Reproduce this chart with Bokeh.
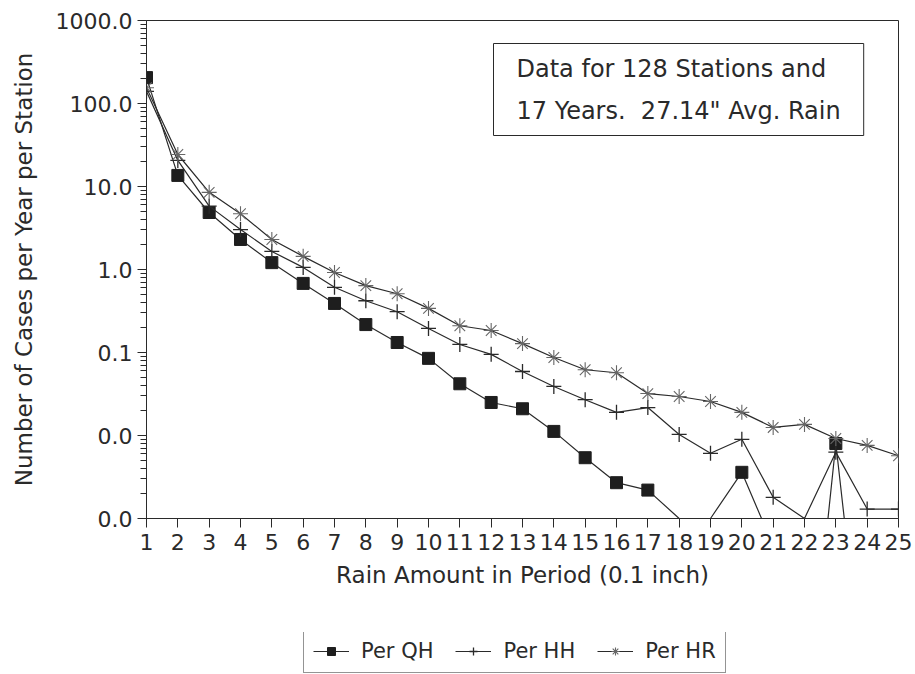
from bokeh.plotting import figure
from bokeh.layouts import column
from bokeh.models import (Range1d, FixedTicker, PrintfTickFormatter, Legend, LegendItem,
                          Label, ColumnDataSource, CDSView, BooleanFilter)
from bokeh.embed import file_html
from bokeh.resources import INLINE

# ---- data ----
rain_amount = list(range(1, 26))
per_qh = [205, 13.6, 4.86, 2.3, 1.21, 0.68, 0.39, 0.217, 0.132, 0.085,
          0.042, 0.025, 0.021, 0.0112, 0.0054, 0.0027, 0.0022, 0.001, 0.001, 0.0036,
          0.00047, 0.000002, 0.008, 0.0000035, 0.0000035]
per_hh = [140, 20.6, 5.8, 3.03, 1.65, 1.06, 0.61, 0.42, 0.31, 0.195,
          0.125, 0.095, 0.059, 0.039, 0.027, 0.019, 0.0217, 0.0103, 0.0061, 0.009,
          0.0018, 0.001, 0.0063, 0.0013, 0.0013]
per_hr = [155, 24.3, 8.5, 4.7, 2.3, 1.44, 0.92, 0.64, 0.51, 0.34,
          0.21, 0.184, 0.128, 0.087, 0.062, 0.057, 0.032, 0.0295, 0.0257, 0.019,
          0.0125, 0.0136, 0.0092, 0.0076, 0.0057]
x_ticks = list(range(1, 26))
y_ticks = [0.001, 0.01, 0.1, 1, 10, 100, 1000]
series_names = ["Per QH", "Per HH", "Per HR"]
note_text = "Data for 128 Stations and\n17 Years.\u00a0 27.14\" Avg. Rain"

FONT = "DejaVu Sans"
INK = "#2a2a2a"
Y_MIN = y_ticks[0]

p = figure(width=915, height=632, y_axis_type="log", output_backend="svg",
           toolbar_location=None,
           x_range=Range1d(x_ticks[0], x_ticks[-1]),
           y_range=Range1d(y_ticks[0], y_ticks[-1]),
           min_border_left=146, min_border_right=17, min_border_top=20,
           min_border_bottom=114)
p.grid.visible = False
p.outline_line_color = INK
p.outline_line_width = 1
p.background_fill_color = "white"
p.border_fill_color = "white"

# axes
minor = []
for t in y_ticks[:-1]:
    for k in range(2, 10):
        minor.append(t * k)
p.yaxis.ticker = FixedTicker(ticks=y_ticks, minor_ticks=minor)
p.yaxis.formatter = PrintfTickFormatter(format="%.1f")
p.xaxis.ticker = FixedTicker(ticks=x_ticks, minor_ticks=[])
for ax in (p.xaxis[0], p.yaxis[0]):
    ax.axis_line_color = INK
    ax.major_tick_line_color = INK
    ax.minor_tick_line_color = INK
    ax.major_tick_out = 9
    ax.major_tick_in = 0
    ax.minor_tick_out = 6
    ax.minor_tick_in = 0
    ax.major_label_text_font = FONT
    ax.major_label_text_font_size = "22px"
    ax.major_label_text_color = INK
    ax.axis_label_text_font = FONT
    ax.axis_label_text_font_size = "23px"
    ax.axis_label_text_font_style = "normal"
    ax.axis_label_text_color = INK
p.xaxis.major_label_standoff = 6
p.yaxis.major_label_standoff = 5
p.xaxis.axis_label = "Rain Amount in Period (0.1 inch)"
p.yaxis.axis_label = "Number of Cases per Year per Station"
p.xaxis.axis_label_standoff = 9
p.yaxis.axis_label_standoff = 16

src = ColumnDataSource(dict(x=rain_amount, qh=per_qh, hh=per_hh, hr=per_hr))

def view_for(vals):
    return CDSView(filter=BooleanFilter([v > Y_MIN * 1.1 for v in vals]))

def draw(fig):
    l_qh = fig.line("x", "qh", source=src, line_color=INK, line_width=1.2)
    s_qh = fig.scatter("x", "qh", source=src, view=view_for(per_qh), marker="square",
                       size=12, fill_color="#1e1e1e", line_color="#1e1e1e")
    l_hh = fig.line("x", "hh", source=src, line_color=INK, line_width=1.2)
    s_hh = fig.scatter("x", "hh", source=src, view=view_for(per_hh), marker="cross",
                       size=15, line_color=INK, line_width=1.3)
    l_hr = fig.line("x", "hr", source=src, line_color=INK, line_width=1.2)
    s_hr = fig.scatter("x", "hr", source=src, view=view_for(per_hr), marker="asterisk",
                       size=15, line_color="#666666", line_width=1.1)
    return [(l_qh, s_qh), (l_hh, s_hh), (l_hr, s_hr)]

draw(p)

note = Label(x=347, y=475, x_units="screen", y_units="screen", text=note_text,
             anchor="top_left", text_font=FONT, text_font_size="24px",
             text_color=INK, text_line_height=1.5,
             border_line_color=INK, border_line_width=1,
             background_fill_color="white", padding=(23, 11))
p.add_layout(note)

# legend strip below the chart (its ranges keep the series out of view)
leg_fig = figure(width=915, height=42, output_backend="svg", toolbar_location=None,
                 x_axis_location=None, y_axis_location=None,
                 x_range=Range1d(100, 101), y_range=Range1d(100, 101),
                 min_border_left=146, min_border_right=17, min_border_top=0,
                 min_border_bottom=0)
leg_fig.grid.visible = False
leg_fig.outline_line_color = None
leg_fig.background_fill_color = "white"
leg_fig.border_fill_color = "white"
pairs = draw(leg_fig)
legend = Legend(items=[LegendItem(label=n, renderers=list(r)) for n, r in zip(series_names, pairs)],
                orientation="horizontal", location=(157, 1))
legend.label_text_font = FONT
legend.label_text_font_size = "21px"
legend.label_text_color = INK
legend.border_line_color = INK
legend.border_line_width = 1
legend.background_fill_color = "white"
legend.background_fill_alpha = 1
legend.glyph_width = 36
legend.glyph_height = 20
legend.label_standoff = 12
legend.spacing = 22
legend.padding = 9
legend.margin = 0
leg_fig.add_layout(legend)

page = column(p, leg_fig, spacing=0)
open("out.html", "w").write(file_html(page, INLINE))
